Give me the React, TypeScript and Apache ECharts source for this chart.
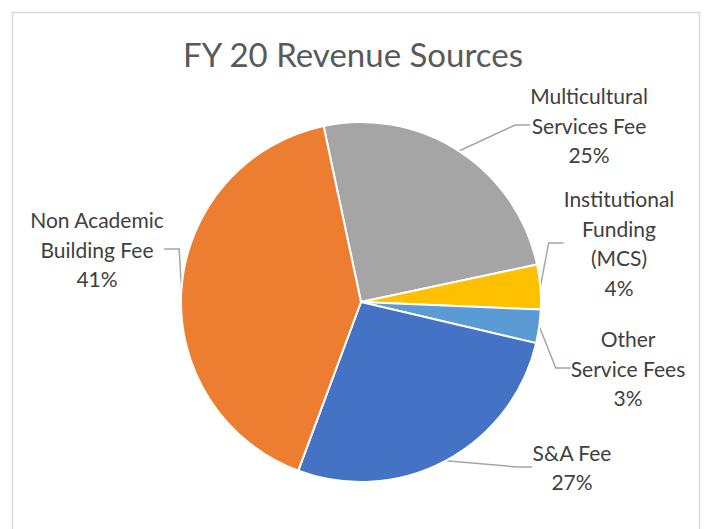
import React, { useEffect, useRef } from "react";
import * as echarts from "echarts";

const categories = [
  "Multicultural\nServices Fee",
  "Institutional\nFunding\n(MCS)",
  "Other\nService Fees",
  "S&A Fee",
  "Non Academic\nBuilding Fee",
];
const values = [25, 4, 3, 27, 41];
const colors = ["#A5A5A5", "#FFC000", "#5B9BD5", "#4472C4", "#ED7D31"];
const titleText = "FY 20 Revenue Sources";

// label block centres (layout only)
const labelCenters: [number, number][] = [
  [589, 125],
  [619, 243],
  [628, 368],
  [572, 467],
  [97, 249],
];

export default function App() {
  const ref = useRef<HTMLDivElement>(null);
  useEffect(() => {
    document.body.style.margin = "0";
    if (!ref.current) return;
    const chart = echarts.init(ref.current, undefined, { renderer: "svg" });
    const font = "Lato, 'Noto Sans', sans-serif";
    chart.setOption({
      animation: false,
      backgroundColor: "#ffffff",
      title: {
        text: titleText,
        left: "center",
        top: 32,
        textStyle: { fontFamily: font, fontSize: 33, fontWeight: "normal", color: "#595959" },
      },
      graphic: [
        {
          type: "rect",
          shape: { x: 12.5, y: 12.5, width: 687, height: 540 },
          style: { fill: "none", stroke: "#D9D9D9", lineWidth: 1.5 },
          silent: true,
          z: -1,
        },
      ],
      series: [
        {
          type: "pie",
          center: [361, 302],
          radius: 180,
          startAngle: 102,
          clockwise: true,
          data: categories.map((name, i) => ({
            name,
            value: values[i],
            itemStyle: { color: colors[i] },
          })),
          itemStyle: { borderColor: "#ffffff", borderWidth: 2 },
          label: {
            show: true,
            position: "outside",
            formatter: (p: any) => `${p.name}\n${Math.round(p.percent)}%`,
            color: "#404040",
            fontFamily: font,
            fontSize: 21,
            lineHeight: 29.5,
            align: "center",
          },
          labelLine: {
            show: true,
            length: 15,
            length2: 15,
            lineStyle: { color: "#A6A6A6", width: 1.5 },
          },
          labelLayout: (params: any) => {
            const c = labelCenters[params.dataIndex];
            return { x: c[0], y: c[1], align: "center", verticalAlign: "middle" };
          },
          emphasis: { disabled: true },
        },
      ],
    });
    return () => chart.dispose();
  }, []);
  return <div ref={ref} style={{ width: 706, height: 529 }} />;
}
